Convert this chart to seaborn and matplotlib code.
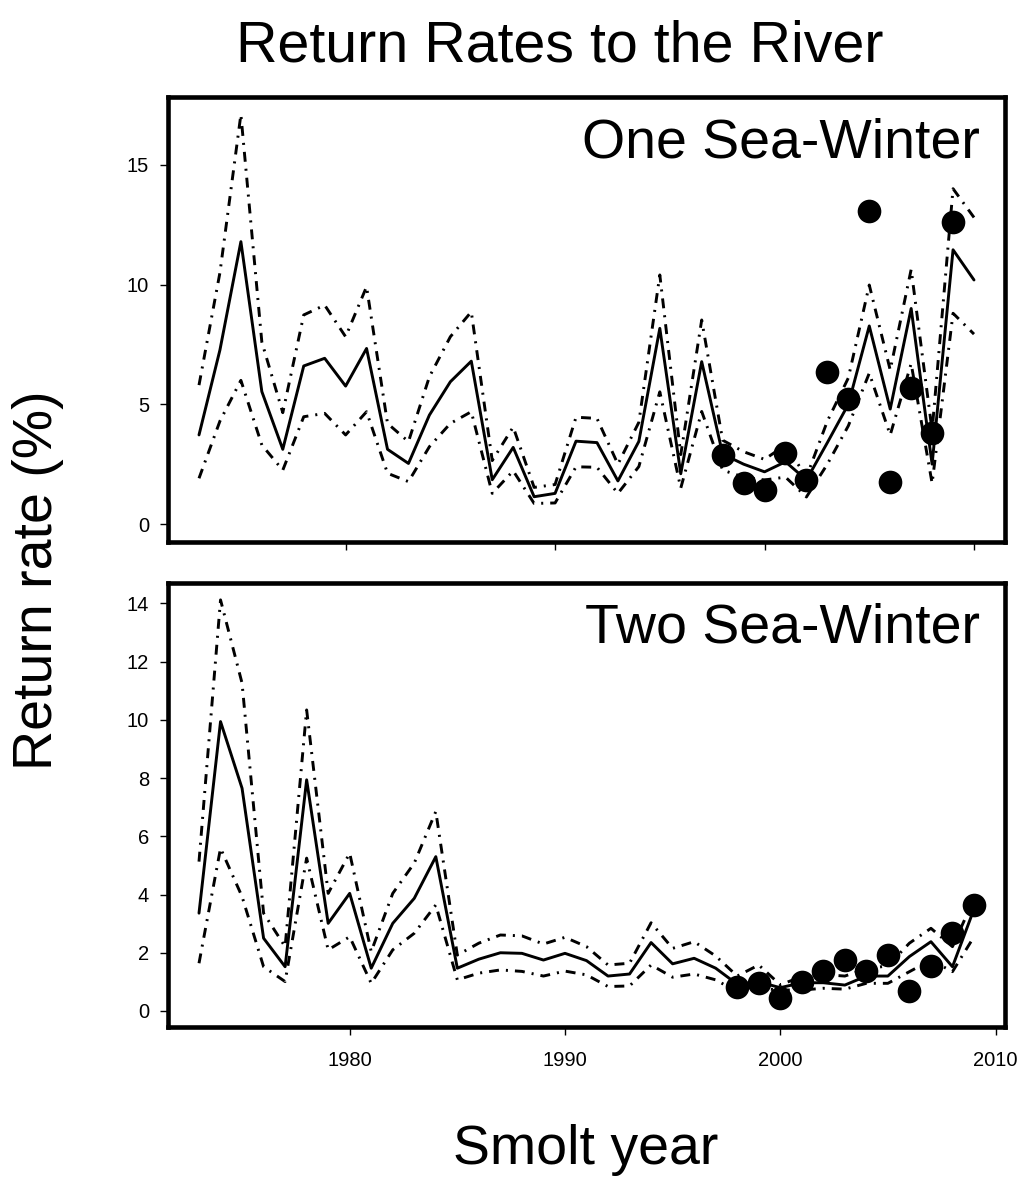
import numpy as np
import pandas as pd
import matplotlib
matplotlib.use("Agg")
import matplotlib.pyplot as plt
import seaborn as sns

# ---------------- data ----------------
years_1sw = list(range(1973, 2011))
mean_1sw = [3.72, 7.27, 11.79, 5.53, 3.12, 6.60, 6.92, 5.76, 7.33, 3.12,
            2.53, 4.55, 5.94, 6.80, 1.85, 3.20, 1.14, 1.28, 3.46, 3.40,
            1.80, 3.45, 8.17, 2.10, 6.78, 2.92, 2.50, 2.18, 2.60, 1.84,
            3.40, 5.00, 8.27, 4.80, 9.00, 2.50, 11.45, 10.19]
upper_1sw = [5.80, 10.50, 17.10, 7.60, 4.65, 8.73, 9.14, 7.82, 9.91, 4.20,
             3.44, 6.15, 7.82, 8.86, 2.65, 4.05, 1.53, 1.65, 4.46, 4.41,
             2.50, 4.25, 10.40, 2.90, 8.52, 3.50, 3.02, 2.70, 3.30, 1.96,
             4.30, 6.10, 9.98, 6.43, 10.63, 3.90, 14.00, 12.80]
lower_1sw = [1.91, 4.30, 6.00, 3.30, 2.25, 4.48, 4.62, 3.72, 4.69, 2.12,
             1.77, 3.23, 4.20, 4.69, 1.28, 2.22, 0.86, 0.88, 2.39, 2.37,
             1.28, 2.40, 5.52, 1.50, 4.70, 2.25, 1.96, 1.84, 1.96, 1.13,
             2.50, 4.10, 6.30, 3.72, 6.70, 1.70, 8.80, 7.93]
obs_years_1sw = list(range(1998, 2010))
obs_1sw = [2.88, 1.71, 1.42, 2.96, 1.84, 6.35, 5.22, 13.07, 1.75, 5.68, 3.80, 12.61]

years_2sw = list(range(1973, 2010))
mean_2sw = [3.36, 9.94, 7.65, 2.50, 1.52, 7.94, 3.01, 4.04, 1.47, 3.01,
            3.87, 5.30, 1.47, 1.78, 2.00, 1.98, 1.75, 1.98, 1.73, 1.20,
            1.27, 2.35, 1.62, 1.81, 1.47, 0.92, 1.00, 0.80, 0.97, 0.97,
            0.89, 1.20, 1.20, 1.87, 2.38, 1.52, 3.50]
upper_2sw = [5.13, 14.12, 11.26, 3.36, 2.21, 10.34, 4.04, 5.42, 2.04, 4.04,
             5.08, 6.85, 1.92, 2.33, 2.61, 2.58, 2.30, 2.53, 2.21, 1.58,
             1.64, 3.03, 2.15, 2.38, 1.89, 1.20, 1.58, 0.90, 1.18, 1.25,
             1.20, 1.45, 1.55, 2.33, 2.84, 2.21, 3.85]
lower_2sw = [1.64, 5.59, 3.93, 1.52, 1.01, 5.25, 2.10, 2.55, 0.95, 2.10,
             2.67, 3.64, 1.07, 1.30, 1.41, 1.36, 1.20, 1.37, 1.24, 0.84,
             0.86, 1.58, 1.16, 1.27, 1.07, 0.66, 0.78, 0.72, 0.72, 0.78,
             0.75, 0.95, 0.95, 1.35, 1.75, 1.35, 2.55]
obs_years_2sw = list(range(1998, 2010))
obs_2sw = [0.84, 0.95, 0.46, 1.01, 1.37, 1.75, 1.38, 1.92, 0.70, 1.55, 2.69, 3.64]

x_ticks = [1980, 1990, 2000, 2010]
y_ticks_1sw = [0, 5, 10, 15]
y_ticks_2sw = [0, 2, 4, 6, 8, 10, 12, 14]

title = "Return Rates to the River"
panel_labels = ["One Sea-Winter", "Two Sea-Winter"]
xlabel = "Smolt year"
ylabel = "Return rate (%)"

# ---------------- style ----------------
sns.set_style("white")
plt.rcParams["font.family"] = ["Liberation Sans", "DejaVu Sans"]
plt.rcParams["text.color"] = "black"

W, H = 1020, 1180
fig = plt.figure(figsize=(W / 100, H / 100), dpi=100)

def ax_rect(l, t, r, b):
    return [l / W, 1 - b / H, (r - l) / W, (b - t) / H]

ax1 = fig.add_axes(ax_rect(168, 97, 1005, 542))
ax2 = fig.add_axes(ax_rect(168, 583, 1005, 1027))

DOTDASH = (0, (3.4, 2.4, 0.7, 2.4))
LW = 2.1

def draw_panel(ax, yrs, mean, lo, hi, oyrs, obs, label, xlim, ylim, yticks, show_xlabels):
    df = pd.DataFrame({"year": yrs, "mean": mean, "lower": lo, "upper": hi})
    sns.lineplot(data=df, x="year", y="upper", ax=ax, color="black", lw=LW,
                 linestyle=DOTDASH, estimator=None, errorbar=None)
    sns.lineplot(data=df, x="year", y="lower", ax=ax, color="black", lw=LW,
                 linestyle=DOTDASH, estimator=None, errorbar=None)
    sns.lineplot(data=df, x="year", y="mean", ax=ax, color="black", lw=LW,
                 estimator=None, errorbar=None)
    dfo = pd.DataFrame({"year": oyrs, "obs": obs})
    sns.scatterplot(data=dfo, x="year", y="obs", ax=ax, color="black", s=290,
                    linewidth=0, zorder=4)
    ax.set_xlim(*xlim)
    ax.set_ylim(*ylim)
    ax.set_xticks(x_ticks)
    ax.set_yticks(yticks)
    ax.set_xlabel("")
    ax.set_ylabel("")
    if not show_xlabels:
        ax.set_xticklabels([])
    for sp in ax.spines.values():
        sp.set_visible(True)
        sp.set_color("black")
        sp.set_linewidth(3.3)
    ax.tick_params(axis="both", which="major", direction="out", length=5.5,
                   width=1.0, colors="black", labelcolor="black", labelsize=14.5,
                   left=True, bottom=True)
    ax.tick_params(axis="y", pad=8)
    ax.tick_params(axis="x", pad=12)
    ax.text(0.97, 0.955, label, transform=ax.transAxes, ha="right", va="top",
            fontsize=40, color="black")

draw_panel(ax1, years_1sw, mean_1sw, lower_1sw, upper_1sw, obs_years_1sw, obs_1sw,
           panel_labels[0], (1971.52, 2011.48), (-0.75, 17.83), y_ticks_1sw, False)
draw_panel(ax2, years_2sw, mean_2sw, lower_2sw, upper_2sw, obs_years_2sw, obs_2sw,
           panel_labels[1], (1971.56, 2010.44), (-0.55, 14.7), y_ticks_2sw, True)

fig.text(560 / W, 1 - 47 / H, title, ha="center", va="center", fontsize=41.3, color="black")
fig.text(586 / W, 1 - 1150 / H, xlabel, ha="center", va="center", fontsize=40, color="black")
fig.text(38 / W, 1 - 580 / H, ylabel, ha="center", va="center", rotation=90,
         fontsize=40, color="black")

fig.savefig("out.png", dpi=100)
